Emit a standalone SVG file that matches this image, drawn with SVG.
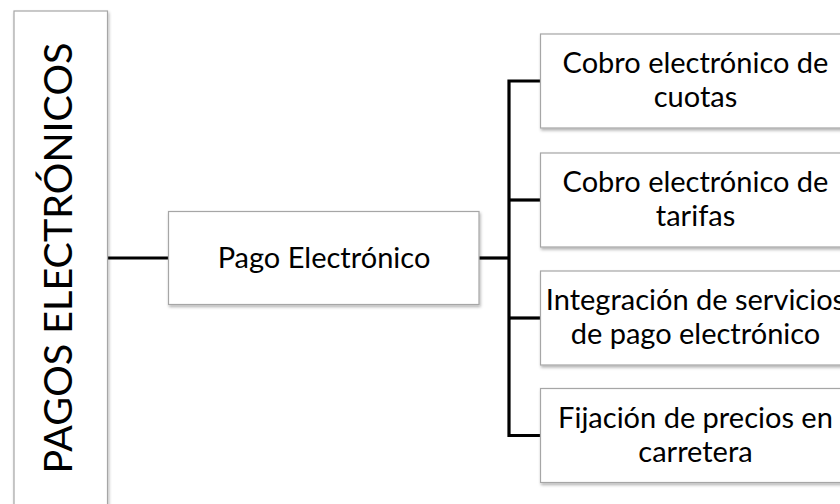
<svg xmlns="http://www.w3.org/2000/svg" width="840" height="504" viewBox="0 0 840 504">
<defs>
<filter id="sh" x="-10%" y="-10%" width="130%" height="130%">
<feDropShadow dx="1" dy="2" stdDeviation="1.5" flood-color="#000" flood-opacity="0.3"/>
</filter>
<style>
.box{fill:#fff;stroke:#a6a6a6;stroke-width:1.2;filter:url(#sh)}
.t{font-family:Lato,"Liberation Sans",sans-serif;font-size:29px;fill:#000;text-anchor:middle}
.title{font-family:Lato,"Liberation Sans",sans-serif;font-size:39.5px;fill:#000;text-anchor:middle}
.c{fill:none;stroke:#000;stroke-width:3.2}
</style>
</defs>
<rect width="840" height="504" fill="#fff"/>
<g id="connectors">
<path class="c" d="M107.5 258H168.5"/>
<path class="c" d="M479 258H509"/>
<path class="c" d="M540.5 81H509V435.5H540.5"/>
<path class="c" d="M509 200H540.5"/>
<path class="c" d="M509 318H540.5"/>
</g>
<g id="root">
<rect class="box" x="14" y="11" width="93.5" height="520"/>
<text class="title" transform="translate(72,258) rotate(-90)" x="0" y="0">PAGOS ELECTRÓNICOS</text>
</g>
<g id="pago">
<rect class="box" x="168.5" y="211.5" width="310.5" height="93"/>
<text class="t" x="324" y="268.3">Pago Electrónico</text>
</g>
<g id="cuotas">
<rect class="box" x="540.5" y="34" width="311" height="94"/>
<text class="t" x="695.5" y="73.3">Cobro electrónico de</text>
<text class="t" x="695.5" y="107.3">cuotas</text>
</g>
<g id="tarifas">
<rect class="box" x="540.5" y="153" width="311" height="94"/>
<text class="t" x="695.5" y="192.3">Cobro electrónico de</text>
<text class="t" x="695.5" y="226.3">tarifas</text>
</g>
<g id="integracion">
<rect class="box" x="540.5" y="271" width="311" height="94"/>
<text class="t" x="695.5" y="310.3">Integración de servicios</text>
<text class="t" x="695.5" y="344.3">de pago electrónico</text>
</g>
<g id="fijacion">
<rect class="box" x="540.5" y="388.5" width="311" height="94"/>
<text class="t" x="695.5" y="427.8">Fijación de precios en</text>
<text class="t" x="695.5" y="461.8">carretera</text>
</g>
</svg>
